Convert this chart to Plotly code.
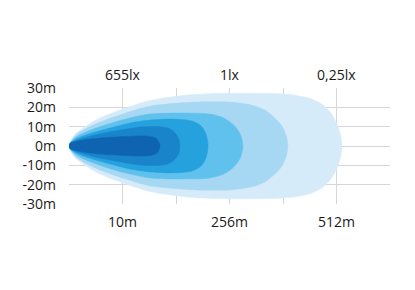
import plotly.graph_objects as go

# Axis tick labels
x_tick_pos = [0, 1, 2, 3, 4, 5, 6]
x_tick_text = ["", "10m", "", "256m", "", "512m", ""]
y_tick_pos = [30, 20, 10, 0, -10, -20, -30]
y_tick_text = ["30m", "20m", "10m", "0m", "-10m", "-20m", "-30m"]
top_label_pos = [1, 3, 5]
top_label_text = ["655lx", "1lx", "0,25lx"]

# Beam contours: distance (axis position units) and half-width (m), outermost first
l1_x = [0, 0.02, 0.11, 0.3, 0.58, 1.05, 1.51, 2.26, 3.01, 3.94, 4.22, 4.5, 4.73, 4.9, 5.01, 5.075, 5.1]
l1_h = [0, 2, 6, 10, 14.5, 19.5, 23.5, 26.5, 27.3, 27, 26.3, 24.7, 21.6, 17, 11.3, 5.7, 0]
l2_x = [0, 0.02, 0.11, 0.3, 0.58, 1.05, 1.51, 2.36, 3.01, 3.42, 3.66, 3.85, 3.98, 4.06, 4.09]
l2_h = [0, 1.5, 5.2, 8.8, 12.4, 17, 20.6, 22.7, 22.7, 21.1, 18.6, 14.4, 10.3, 5.2, 0]
l3_x = [0, 0.02, 0.13, 0.36, 0.67, 1.05, 1.51, 2.26, 2.64, 2.9, 3.08, 3.2, 3.25]
l3_h = [0, 1.5, 4.6, 7.7, 10.8, 13.9, 16.5, 17, 16.5, 14.4, 10.8, 6.2, 0]
l4_x = [0, 0.02, 0.17, 0.43, 0.77, 1.14, 1.51, 1.98, 2.3, 2.47, 2.56, 2.6]
l4_h = [0, 1.5, 4.1, 6.7, 9.3, 11.9, 13.4, 13.9, 12.9, 10.3, 6.2, 0]
l5_x = [0, 0.02, 0.21, 0.49, 0.86, 1.33, 1.7, 1.89, 2.0, 2.06, 2.07]
l5_h = [0, 1.3, 3.6, 5.7, 7.7, 9.8, 10, 8.8, 6.2, 3.1, 0]
l6_x = [0, 0.02, 0.21, 0.58, 1.05, 1.42, 1.57, 1.66, 1.7]
l6_h = [0, 1.3, 2.8, 4.1, 4.9, 5.2, 4.6, 3.1, 0]

layers = [
    (l1_x, l1_h, "#d5ebf9"),
    (l2_x, l2_h, "#a6d7f3"),
    (l3_x, l3_h, "#60c1ed"),
    (l4_x, l4_h, "#25a1de"),
    (l5_x, l5_h, "#1a84ca"),
    (l6_x, l6_h, "#0e64b0"),
]

fig = go.Figure()
for xs, hs, col in layers:
    px = list(xs) + list(reversed(xs[:-1]))
    py = list(hs) + [-h for h in reversed(hs[:-1])]
    fig.add_trace(go.Scatter(
        x=px, y=py, mode="lines", fill="toself", fillcolor=col,
        line=dict(color=col, width=0.5, shape="spline", smoothing=0.8),
        hoverinfo="skip", showlegend=False,
    ))

font = dict(family="Open Sans, Noto Sans, sans-serif", size=14, color="#1a1a1a")

fig.update_layout(
    width=415, height=290,
    margin=dict(l=69, r=25, t=88, b=86),
    paper_bgcolor="white", plot_bgcolor="white",
    font=font,
    showlegend=False,
    xaxis=dict(range=[0, 6], tickvals=x_tick_pos, ticktext=x_tick_text,
               showgrid=True, gridcolor="#d6d6d6", gridwidth=1, zeroline=False,
               showline=False, ticks="", ticklabelstandoff=8, fixedrange=True),
    yaxis=dict(range=[-30, 30], tickvals=y_tick_pos, ticktext=y_tick_text,
               showgrid=True, gridcolor="#d6d6d6", gridwidth=1, zeroline=False,
               showline=False, ticks="", ticklabelstandoff=12, fixedrange=True),
)

for xp, txt in zip(top_label_pos, top_label_text):
    fig.add_annotation(x=xp, y=1, xref="x", yref="paper", text=txt,
                       showarrow=False, yanchor="bottom", yshift=2, font=font)

fig.write_html("out.html")
